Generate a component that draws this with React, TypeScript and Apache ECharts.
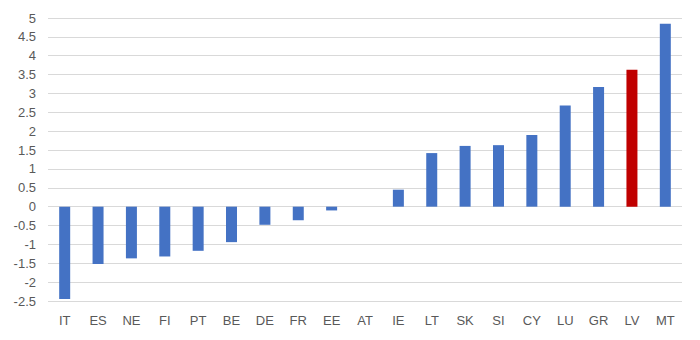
import React, { useEffect, useRef } from "react";
import * as echarts from "echarts";

const countries = ["IT", "ES", "NE", "FI", "PT", "BE", "DE", "FR", "EE", "AT", "IE", "LT", "SK", "SI", "CY", "LU", "GR", "LV", "MT"];
const values = [-2.45, -1.52, -1.37, -1.32, -1.17, -0.94, -0.48, -0.36, -0.1, 0, 0.45, 1.42, 1.61, 1.63, 1.9, 2.68, 3.17, 3.63, 4.85];
const highlighted = "LV";

const BLUE = "#4472C4";
const RED = "#C00000";

export default function App() {
  const ref = useRef<HTMLDivElement>(null);

  useEffect(() => {
    if (!ref.current) return;
    const chart = echarts.init(ref.current, null, { renderer: "svg" });
    chart.setOption({
      animation: false,
      backgroundColor: "#ffffff",
      grid: { left: 48, right: 18, top: 18, bottom: 39, containLabel: false },
      xAxis: {
        type: "category",
        data: countries,
        position: "bottom",
        axisLine: { show: false },
        axisTick: { show: false },
        axisLabel: {
          color: "#595959",
          fontFamily: "Liberation Sans, Arial, sans-serif",
          fontSize: 13,
          margin: 13,
        },
      },
      yAxis: {
        type: "value",
        min: -2.5,
        max: 5,
        interval: 0.5,
        axisLine: { show: false },
        axisTick: { show: false },
        axisLabel: {
          color: "#595959",
          fontFamily: "Liberation Sans, Arial, sans-serif",
          fontSize: 13,
          margin: 12,
          formatter: (v: number) => String(Math.round(v * 10) / 10),
        },
        splitLine: { lineStyle: { color: "#d9d9d9", width: 1 } },
      },
      series: [
        {
          type: "bar",
          barWidth: 11,
          data: values.map((v, i) => ({
            value: v,
            itemStyle: { color: countries[i] === highlighted ? RED : BLUE },
          })),
        },
      ],
    });
    return () => chart.dispose();
  }, []);

  return (
    <div
      ref={ref}
      style={{ position: "fixed", left: 0, top: 0, width: 700, height: 340, background: "#fff" }}
    />
  );
}
